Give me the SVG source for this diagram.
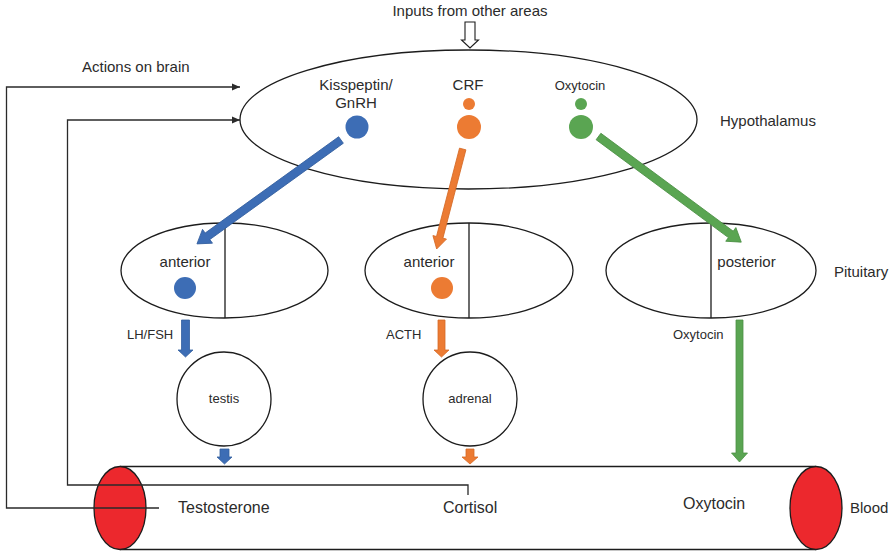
<svg xmlns="http://www.w3.org/2000/svg" width="895" height="552" viewBox="0 0 895 552">
  <style>
    .outline { fill: none; stroke: #1c1c1c; stroke-width: 1.3; }
    .organ { fill: #ffffff; stroke: #1c1c1c; stroke-width: 1.3; }
    .wire { fill: none; stroke: #2a2a2a; stroke-width: 1.3; }
    .lbl { font-family: "Liberation Sans", Arial, sans-serif; fill: #2b2b2b; }
    .blue { fill: #3d6db5; }
    .orange { fill: #ec7b33; }
    .green { fill: #5aa552; }
    .blue-arrow { fill: #3d6db5; stroke: #345f9f; stroke-width: 0.8; }
    .orange-arrow { fill: #ec7b33; stroke: #d56a26; stroke-width: 0.8; }
    .green-arrow { fill: #5aa552; stroke: #4b9044; stroke-width: 0.8; }
    .rbc { fill: #ec282d; stroke: #1c1c1c; stroke-width: 1.3; }
  </style>
  <defs>
    <marker id="tri" viewBox="0 0 8 8" refX="8" refY="4" markerWidth="8" markerHeight="8" markerUnits="userSpaceOnUse" orient="auto">
      <path d="M0,0.5 L8,4 L0,7.5 Z" fill="#2a2a2a"/>
    </marker>
  </defs>

  <!-- header input -->
  <g id="inputs">
    <text class="lbl" x="470" y="16" font-size="15" text-anchor="middle">Inputs from other areas</text>
    <path d="M465,22 H475 V40 H478.5 L470,48 L461.5,40 H465 Z" fill="#ffffff" stroke="#1c1c1c" stroke-width="1.1"/>
  </g>

  <!-- hypothalamus -->
  <g id="hypothalamus">
    <ellipse class="outline" cx="468.5" cy="119.5" rx="228.5" ry="69.5"/>
    <text class="lbl" x="356" y="90" font-size="15" text-anchor="middle">Kisspeptin/</text>
    <text class="lbl" x="356" y="108" font-size="15" text-anchor="middle">GnRH</text>
    <text class="lbl" x="468" y="90" font-size="15" text-anchor="middle">CRF</text>
    <text class="lbl" x="580" y="90" font-size="13" text-anchor="middle">Oxytocin</text>
    <circle class="blue" cx="357" cy="127" r="11.5"/>
    <circle class="orange" cx="469" cy="104" r="6"/>
    <circle class="orange" cx="469" cy="127" r="12"/>
    <circle class="green" cx="581" cy="104" r="6"/>
    <circle class="green" cx="581" cy="127" r="12"/>
    <text class="lbl" x="720" y="126" font-size="15">Hypothalamus</text>
  </g>

  <!-- pituitary lobes -->
  <g id="pituitary-left">
    <ellipse class="outline" cx="224.5" cy="270.5" rx="103.5" ry="47.5"/>
    <line class="outline" x1="225" y1="223" x2="225" y2="318"/>
    <text class="lbl" x="185" y="267" font-size="15" text-anchor="middle">anterior</text>
    <circle class="blue" cx="185" cy="288" r="11"/>
  </g>
  <g id="pituitary-middle">
    <ellipse class="outline" cx="469" cy="270.5" rx="104" ry="47.5"/>
    <line class="outline" x1="469" y1="223" x2="469" y2="318"/>
    <text class="lbl" x="429" y="267" font-size="15" text-anchor="middle">anterior</text>
    <circle class="orange" cx="442" cy="288" r="11"/>
  </g>
  <g id="pituitary-right">
    <ellipse class="outline" cx="711" cy="270.5" rx="105" ry="47.5"/>
    <line class="outline" x1="711" y1="223" x2="711" y2="318"/>
    <text class="lbl" x="746.5" y="267" font-size="15" text-anchor="middle">posterior</text>
    <text class="lbl" x="834" y="277" font-size="15">Pituitary</text>
  </g>

  <!-- target glands -->
  <g id="testis">
    <circle class="organ" cx="224" cy="399" r="47"/>
    <text class="lbl" x="224" y="403" font-size="13" text-anchor="middle">testis</text>
  </g>
  <g id="adrenal">
    <circle class="organ" cx="470" cy="399" r="47"/>
    <text class="lbl" x="470" y="403" font-size="13" text-anchor="middle">adrenal</text>
  </g>

  <!-- blood vessel -->
  <g id="blood">
    <line class="outline" x1="120" y1="466.5" x2="816" y2="466.5"/>
    <line class="outline" x1="120" y1="549.5" x2="816" y2="549.5"/>
    <ellipse class="rbc" cx="120" cy="508" rx="26" ry="41.5"/>
    <ellipse class="rbc" cx="816" cy="508" rx="26" ry="41.5"/>
    <text class="lbl" x="178" y="513" font-size="16">Testosterone</text>
    <text class="lbl" x="443" y="513" font-size="16">Cortisol</text>
    <text class="lbl" x="683" y="509" font-size="16">Oxytocin</text>
    <text class="lbl" x="850" y="513" font-size="15">Blood</text>
  </g>

  <!-- connectors -->
  <g id="connectors">
    <!-- feedback to brain -->
    <text class="lbl" x="82" y="72" font-size="15">Actions on brain</text>
    <path class="wire" d="M159,508 H6.5 V87 H240" marker-end="url(#tri)"/>
    <path class="wire" d="M468,495 V485 H67.5 V120 H240" marker-end="url(#tri)"/>

    <!-- hypothalamus to pituitary -->
    <path class="blue-arrow" d="M0,-4 H164.6 V-8.5 L177.6,0 L164.6,8.5 V4 H0 Z" transform="translate(341,140) rotate(144.2)"/>
    <path class="orange-arrow" d="M0,-3.3 H91.3 V-7 L103.3,0 L91.3,7 V3.3 H0 Z" transform="translate(462.7,149) rotate(104.6)"/>
    <path class="green-arrow" d="M0,-4 H164.6 V-8.5 L177.6,0 L164.6,8.5 V4 H0 Z" transform="translate(598.5,136.5) rotate(36.5)"/>

    <!-- pituitary outputs -->
    <text class="lbl" x="127" y="339" font-size="13">LH/FSH</text>
    <path class="blue-arrow" d="M181.5,320 H189.5 V350 H193 L185.5,357 L178,350 H181.5 Z"/>
    <text class="lbl" x="386" y="339" font-size="13">ACTH</text>
    <path class="orange-arrow" d="M438,320 H445 V350 H449 L441.5,357 L434,350 H438 Z"/>
    <text class="lbl" x="673" y="339" font-size="13">Oxytocin</text>
    <path class="green-arrow" d="M736,320 H743 V453 H747.5 L739.5,462 L731.5,453 H736 Z"/>

    <!-- gland outputs into blood -->
    <path class="blue-arrow" d="M220,449 H229 V457 H232 L224.5,464 L217,457 H220 Z"/>
    <path class="orange-arrow" d="M466,449 H474 V457 H478 L470,464 L462,457 H466 Z"/>
  </g>
</svg>
